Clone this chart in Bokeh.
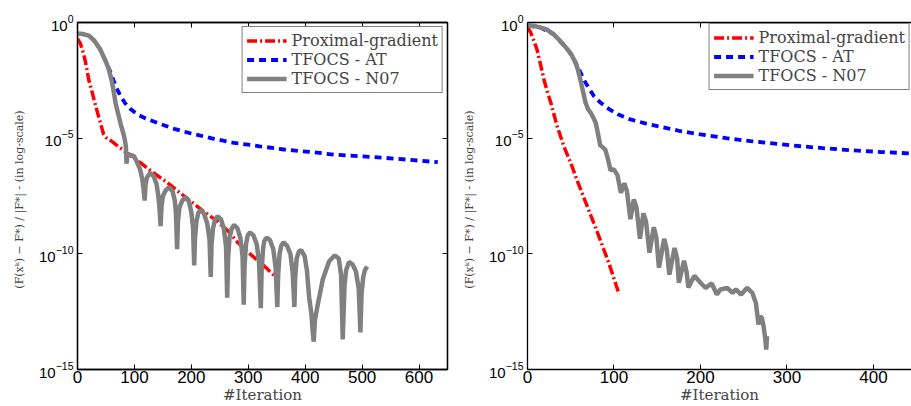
import numpy as np
from bokeh.plotting import figure
from bokeh.layouts import row
from bokeh.models import (LinearAxis, FixedTicker, LogTickFormatter, Range1d,
                          CustomJSTickFormatter)
from bokeh.embed import file_html
from bokeh.resources import INLINE

# ---------------- data (iteration, log10 of relative objective error) ----------------
series_names = ["Proximal-gradient", "TFOCS - AT", "TFOCS - N07"]
x_ticks_left = [0, 100, 200, 300, 400, 500, 600]
x_ticks_right = [0, 100, 200, 300, 400]
y_ticks = [1e-15, 1e-10, 1e-5, 1e0]

left_pg = [(0, -0.7), (5, -0.9), (10, -1.3), (14, -1.7), (20, -2.5), (25, -2.95), (29, -3.33),
           (33, -3.7), (37, -4.05), (42, -4.5), (46, -4.84), (50, -4.97), (58, -5.1), (73, -5.38),
           (90, -5.7), (111, -6.07), (128, -6.4), (158, -6.93), (187, -7.5), (217, -8.08),
           (246, -8.6), (266, -9.05), (281, -9.5), (303, -10.0), (328, -10.53), (347, -10.97)]

left_at = [(0, -0.48), (10, -0.5), (20, -0.57), (30, -0.8), (40, -1.17), (50, -1.7), (58, -2.15),
           (64, -2.55), (70, -2.9), (76, -3.2), (84, -3.5), (92, -3.72), (105, -3.97), (120, -4.15),
           (140, -4.34), (170, -4.6), (200, -4.8), (240, -5.03), (275, -5.2), (320, -5.35),
           (363, -5.49), (410, -5.6), (451, -5.71), (500, -5.79), (539, -5.85), (590, -5.95), (633, -6.04)]

left_n07 = [(0, -0.48), (10, -0.5), (20, -0.57), (30, -0.8), (40, -1.17), (50, -1.7), (55, -2.03),
            (60, -2.5), (63, -2.9), (67, -3.5), (72, -4.0), (76, -4.4), (80, -4.75), (83, -5.05),
            (85, -5.35), (86, -6.1), (87.5, -5.8), (90, -5.7), (99, -5.78), (104, -6.0), (110, -6.35),
            (114, -6.8), (116, -7.2), (118, -7.7), (119.5, -7.0), (122, -6.7), (128, -6.5), (134, -6.65),
            (139, -7.0), (142, -7.5), (144, -8.0), (146, -8.8), (147.5, -8.0), (150, -7.5), (155, -7.25),
            (161, -7.12), (167, -7.3), (171, -7.7), (173, -8.3), (175, -9.8), (176.5, -8.6), (179, -8.0),
            (184, -7.7), (190, -7.55), (196, -7.75), (200, -8.2), (203, -8.9), (205, -10.5),
            (206.5, -9.3), (209, -8.6), (212, -8.25), (216, -8.1), (222, -8.25), (228, -8.7),
            (232, -9.4), (234, -11.0), (235.5, -9.6), (238, -8.9), (242, -8.5), (246, -8.38),
            (252, -8.5), (257, -8.9), (261, -9.7), (263, -11.9), (264.5, -10.2), (267, -9.3),
            (271, -8.9), (275, -8.75), (281, -8.9), (286, -9.3), (290, -10.1), (292, -12.2),
            (293.5, -10.5), (296, -9.6), (299, -9.2), (303, -9.08), (309, -9.2), (315, -9.6),
            (319, -10.4), (322, -12.35), (323.5, -10.7), (326, -9.8), (328, -9.45), (332, -9.3),
            (338, -9.4), (344, -9.8), (348, -10.6), (351, -12.3), (352.5, -10.9), (355, -10.0),
            (358, -9.65), (362, -9.5), (368, -9.65), (374, -10.0), (378, -10.8), (381, -12.3),
            (382.5, -11.0), (385, -10.2), (389, -9.9), (393, -9.84), (399, -10.1), (403, -10.7),
            (407, -11.9), (411, -12.6), (413, -13.3), (415, -13.8), (417, -12.9), (422, -12.2),
            (431, -11.1), (442, -10.32), (452, -10.07), (459, -10.2), (463, -10.9), (466, -13.7),
            (469, -11.4), (472, -10.7), (477, -10.35), (483, -10.45), (489, -10.75), (494, -11.5),
            (497, -13.4), (499, -11.7), (502, -11.0), (505, -10.7), (509, -10.55)]

right_pg = [(0, -0.2), (3.5, -0.42), (7, -0.75), (11, -1.17), (15, -1.8), (19, -2.46), (23, -3.0),
            (27, -3.47), (34, -4.45), (42, -5.35), (50, -6.07), (57, -6.79), (69, -7.94),
            (81, -9.09), (94, -10.39), (106, -11.76)]

right_at = [(0, -0.13), (15, -0.22), (30, -0.5), (46, -1.15), (51, -1.4), (58, -1.9), (65, -2.46),
            (71, -2.85), (77, -3.19), (84, -3.45), (92, -3.69), (105, -3.98), (119, -4.19),
            (135, -4.35), (150, -4.48), (175, -4.68), (200, -4.84), (230, -5.0), (258, -5.13),
            (290, -5.25), (316, -5.35), (345, -5.44), (373, -5.52), (410, -5.6), (443, -5.66)]

right_n07 = [(0, -0.13), (8, -0.15), (15, -0.22), (22, -0.3), (30, -0.5), (38, -0.8), (46, -1.15),
             (51, -1.4), (55, -1.7), (58, -2.0), (61, -2.45), (64, -2.95), (67, -3.45), (70, -3.75),
             (73, -3.9), (76, -4.1), (79, -4.35), (82, -4.9), (84, -5.3), (87, -5.4), (90, -5.5),
             (93, -5.9), (96, -6.4), (98, -6.35), (100, -6.36), (104, -6.6), (108, -7.36), (112, -6.95),
             (115, -7.3), (119, -8.5), (123, -7.65), (126, -8.0), (130, -9.35), (134, -8.25),
             (137, -8.6), (141, -9.95), (146, -8.85), (149, -9.3), (152, -10.6), (158, -9.35),
             (161, -9.8), (164, -10.9), (170, -9.75), (173, -10.2), (175, -11.25), (181, -10.3),
             (184, -10.8), (186, -11.45), (193, -10.95), (200, -11.25), (206, -11.47), (213, -11.28),
             (219, -11.76), (223, -11.54), (231, -11.47), (237, -11.69), (241, -11.54), (247, -11.76),
             (254, -11.47), (260, -11.69), (264, -12.12), (266, -12.7), (267, -13.06), (269, -12.7),
             (271, -12.77), (273, -13.13), (275, -13.7), (276, -14.14), (277, -13.56)]

colors = ["#FF0000", "#0000FF", "#808080"]
dashes = ["10 3 2 3", "7 5", "solid"]
widths = [3.5, 3.8, 4.5]


def xy(pairs):
    xs = [a for a, _ in pairs]
    ys = [10.0 ** b for _, b in pairs]
    return xs, ys


def style_axis(ax, label_size):
    ax.major_tick_in = 5
    ax.major_tick_out = 0
    ax.minor_tick_in = 0
    ax.minor_tick_out = 0
    ax.axis_line_color = "black"
    ax.axis_line_width = 1.3
    ax.major_tick_line_color = "black"
    ax.major_label_text_font = "Liberation Sans"
    ax.major_label_text_font_size = label_size
    ax.major_label_text_color = "black"


def make_fig(xmax, xticks, width, left_b, right_b, box_right, datasets):
    p = figure(width=width, height=406, x_range=Range1d(0, xmax), y_range=Range1d(1e-15, 1.0),
               y_axis_type="log", output_backend="svg", toolbar_location=None,
               min_border_left=left_b, min_border_right=right_b, min_border_top=22,
               min_border_bottom=36)
    p.grid.visible = False
    p.background_fill_color = "white"
    p.border_fill_color = "white"
    if box_right:
        p.outline_line_color = "black"
        p.outline_line_width = 1.3
    else:
        p.outline_line_color = None

    for pairs, name, c, d, w in zip(datasets, series_names, colors, dashes, widths):
        xs, ys = xy(pairs)
        p.line(xs, ys, color=c, line_dash=d, line_width=w, legend_label=name)

    p.xaxis.ticker = FixedTicker(ticks=xticks)
    p.yaxis.ticker = FixedTicker(ticks=y_ticks)
    p.yaxis.formatter = LogTickFormatter()
    style_axis(p.xaxis[0], "17px")
    style_axis(p.yaxis[0], "15px")
    p.xaxis.major_label_standoff = 1
    p.yaxis.major_label_standoff = 4

    p.xaxis.axis_label = "#Iteration"
    p.xaxis.axis_label_text_font = "DejaVu Serif"
    p.xaxis.axis_label_text_font_style = "normal"
    p.xaxis.axis_label_text_font_size = "15px"
    p.xaxis.axis_label_standoff = 0

    p.yaxis.axis_label = "(F(x\u1d4f) \u2212 F*) / |F*|  -  (in log-scale)"
    p.yaxis.axis_label_text_font = "DejaVu Serif"
    p.yaxis.axis_label_text_font_style = "normal"
    p.yaxis.axis_label_text_font_size = "11px"
    p.yaxis.axis_label_standoff = 10

    blank = CustomJSTickFormatter(code="return ''")
    top = LinearAxis(ticker=FixedTicker(ticks=xticks), formatter=blank, major_label_standoff=0)
    style_axis(top, "1px")
    p.add_layout(top, "above")
    if box_right:
        r = LinearAxis(ticker=FixedTicker(ticks=y_ticks), formatter=blank, major_label_standoff=0)
        style_axis(r, "1px")
        p.add_layout(r, "right")

    lg = p.legend[0]
    lg.location = "top_right"
    lg.border_line_color = "black"
    lg.border_line_width = 1.3
    lg.background_fill_alpha = 1.0
    lg.label_text_font = "DejaVu Serif"
    lg.label_text_font_size = "16px"
    lg.glyph_width = 40
    lg.glyph_height = 19
    lg.label_height = 19
    lg.label_standoff = 5
    lg.spacing = 0
    lg.padding = 4
    lg.margin = 4
    return p


p1 = make_fig(650, x_ticks_left, 452, 77, 5, True, [left_pg, left_at, left_n07])
p2 = make_fig(444, x_ticks_right, 459, 75, 0, False, [right_pg, right_at, right_n07])
p2.legend[0].margin = 1

layout = row(p1, p2)
open("out.html", "w").write(file_html(layout, INLINE))
